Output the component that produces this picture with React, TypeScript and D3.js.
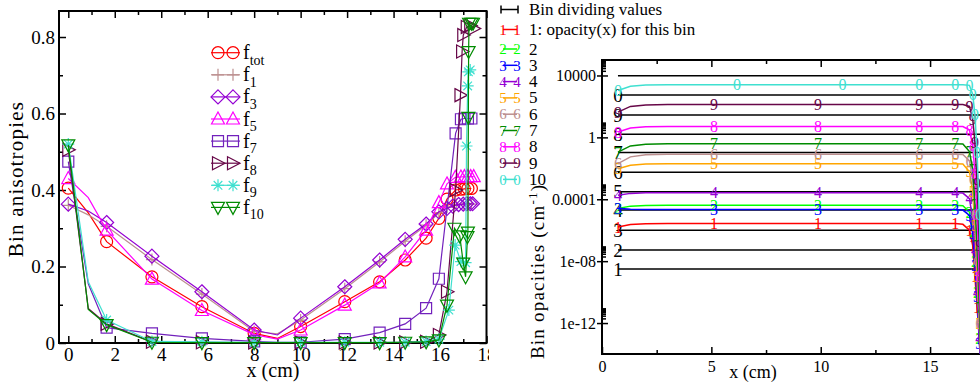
import React, { useEffect, useRef } from 'react';
import * as d3 from 'd3';

const FONT = '"Liberation Serif", "Times New Roman", serif';

// ---------- left panel: bin anisotropies ----------
// x grid shared by all curves up to 16 cm
const anisoX = [0, 0.86, 1.65, 3.6, 5.75, 8.0, 9.0, 10.0, 11.9, 13.4, 14.5, 15.4, 15.95];
// vertices drawn without a symbol
const lineOnlyX = [0.86, 9.0];

const fTot = [0.405, 0.34, 0.265, 0.173, 0.095, 0.025, 0.012, 0.043, 0.108, 0.16, 0.217, 0.274, 0.326];
const fTotTail = [[16.3, 0.376], [16.67, 0.4], [16.9, 0.402], [17.05, 0.403], [17.2, 0.404], [17.35, 0.404]];
const f1 = [0.36, 0.335, 0.305, 0.218, 0.128, 0.03, 0.024, 0.06, 0.142, 0.212, 0.266, 0.308, 0.34];
const f1Tail = [[16.3, 0.355], [16.7, 0.362], [17.0, 0.363], [17.2, 0.363], [17.35, 0.363]];
const f3 = [0.363, 0.345, 0.315, 0.227, 0.134, 0.034, 0.021, 0.065, 0.147, 0.217, 0.271, 0.311, 0.343];
const f3Tail = [[16.3, 0.352], [16.55, 0.358], [16.8, 0.362], [17.0, 0.363], [17.15, 0.364], [17.3, 0.364], [17.4, 0.364]];
const f5 = [0.43, 0.38, 0.295, 0.167, 0.085, 0.022, 0.01, 0.034, 0.099, 0.157, 0.225, 0.295, 0.367];
const f5Tail = [[16.3, 0.416], [16.66, 0.433], [16.9, 0.434], [17.05, 0.435], [17.2, 0.435], [17.32, 0.435], [17.45, 0.435]];
const f7 = [0.474, 0.155, 0.04, 0.025, 0.012, 0.004, 0.002, 0.002, 0.01, 0.027, 0.05, 0.091, 0.168];
const f7Tail = [[16.67, 0.548], [16.9, 0.585], [17.05, 0.587], [17.2, 0.587], [17.35, 0.587]];
const f8 = [0.505, 0.09, 0.05, 0.003, 0.002, 0.001, 0.001, 0.001, 0.001, 0.001, 0.002, 0.003, 0.021];
const f8Tail = [[16.3, 0.134], [16.67, 0.4], [16.88, 0.648], [16.95, 0.762], [17.0, 0.805], [17.15, 0.826], [17.3, 0.83], [17.45, 0.822]];
const f9 = [0.52, 0.16, 0.06, 0.004, 0.003, 0.002, 0.002, 0.002, 0.002, 0.002, 0.002, 0.004, 0.01];
const f9Tail = [[16.38, 0.086], [16.65, 0.256], [16.9, 0.213], [17.1, 0.21], [17.14, 0.515], [17.19, 0.672], [17.22, 0.709], [17.3, 0.714]];
const f10 = [0.518, 0.088, 0.048, 0.002, 0.001, 0.001, 0.001, 0.001, 0.001, 0.001, 0.002, 0.003, 0.008];
const f10Tail = [[16.3, 0.099], [16.62, 0.3], [16.85, 0.28], [17.0, 0.209], [17.1, 0.173], [17.18, 0.278], [17.2, 0.29], [17.22, 0.59], [17.23, 0.762], [17.25, 0.836], [17.35, 0.836], [17.42, 0.836]];

const leftXTicks = [0, 2, 4, 6, 8, 10, 12, 14, 16, 18];
const leftXMinor = [1, 3, 5, 7, 9, 11, 13, 15, 17];
const leftYTicks = [0, 0.2, 0.4, 0.6, 0.8];
const leftYMinor = [0.1, 0.3, 0.5, 0.7];

// ---------- right panel: bin opacities ----------
const opacX = [0.73, 1.3, 2.0, 3.0, 5.12, 6.17, 9.88, 11.0, 14.5, 16.15, 16.5, 16.8, 16.95, 17.05, 17.15, 17.25, 17.35];
const glyphIdx = [0, 4, 6, 8, 9, 11, 12, 13, 14, 15];
const glyphIdx10 = [0, 5, 7, 8, 9, 11, 12, 13, 14, 15];

const bin1 = [1.6e-6, 2.3e-6, 2.6e-6, 2.7e-6, 2.7e-6, 2.7e-6, 2.7e-6, 2.7e-6, 2.7e-6, 2.7e-6, 2.4e-6, 1e-6, 1e-7, 1e-9, 1e-11, 1e-13, 1e-15];
const bin2 = [2.5e-5, 3.6e-5, 4e-5, 4.1e-5, 4.1e-5, 4.1e-5, 4.1e-5, 4.1e-5, 4.1e-5, 4.1e-5, 3.8e-5, 1.5e-5, 8e-7, 1e-8, 1e-10, 1e-13, 1e-15];
const bin3 = [2.6e-5, 2.3e-5, 2.2e-5, 2.2e-5, 2.2e-5, 2.2e-5, 2.2e-5, 2.2e-5, 2.2e-5, 2.2e-5, 2e-5, 9e-6, 6e-7, 5e-9, 5e-11, 5e-14, 1e-15];
const bin4 = [1.8e-4, 2.4e-4, 2.6e-4, 2.6e-4, 2.6e-4, 2.6e-4, 2.6e-4, 2.6e-4, 2.6e-4, 2.6e-4, 2.5e-4, 1.1e-4, 5e-6, 5e-8, 1e-10, 1e-13, 1e-15];
const bin5 = [0.0095, 0.016, 0.019, 0.02, 0.02, 0.02, 0.02, 0.02, 0.02, 0.02, 0.019, 0.006, 3e-4, 2e-6, 1e-9, 1e-12, 1e-15];
const bin6 = [0.02, 0.055, 0.075, 0.08, 0.08, 0.08, 0.08, 0.08, 0.08, 0.08, 0.078, 0.03, 2e-3, 1e-5, 1e-8, 1e-12, 1e-15];
const bin7 = [0.11, 0.28, 0.36, 0.39, 0.39, 0.39, 0.39, 0.39, 0.39, 0.39, 0.37, 0.12, 8e-3, 5e-5, 1e-7, 1e-11, 1e-15];
const bin8 = [2.2, 4.0, 4.8, 5.1, 5.1, 5.1, 5.1, 5.1, 5.1, 5.1, 5.0, 3.0, 0.3, 5e-3, 1e-5, 1e-9, 1e-14];
const bin9 = [43, 100, 125, 135, 135, 135, 135, 135, 135, 135, 134, 100, 15, 0.5, 1e-3, 1e-7, 1e-12];
const bin10 = [1080, 2000, 2400, 2500, 2500, 2500, 2500, 2500, 2500, 2500, 2500, 2300, 600, 30, 0.1, 1e-5, 1e-10];

const dividerX = [0.73, 18];
const dividers = [9500, 540, 27.5, 1.6, 0.107, 0.0055, 3.1e-4, 2.0e-5, 1.0e-6, 5.2e-8, 3.1e-9];
const dividerGlyphs = ['', '0', '9', '8', '7', '6', '5', '4', '3', '2', '1'];

const rightXTicks = [0, 5, 10, 15];
const rightXMinor = [2.5, 7.5, 12.5, 17.5];
const rightYTicks = [1e-12, 1e-8, 1e-4, 1, 1e4];
const rightYLabels = ['1e-12', '1e-08', '0.0001', '1', '10000'];
const logMinorFactors = [2, 3, 4, 5, 6, 7, 8, 9];

const legendLabels = ['Bin dividing values', '1: opacity(x) for this bin', '2', '3', '4', '5', '6', '7', '8', '9', '10'];

const SHAPES: Record<string, string> = {
  plus: 'M-6,0H6M0,-6V6',
  diamond: 'M0,-7L7,0L0,7L-7,0Z',
  triUp: 'M0,-7L6.5,5L-6.5,5Z',
  square: 'M-5.5,-5.5h11v11h-11Z',
  triRight: 'M-5.5,-6.5L7,0L-5.5,6.5Z',
  star: 'M-6,0H6M0,-6V6M-4.3,-4.3L4.3,4.3M-4.3,4.3L4.3,-4.3',
  triDown: 'M0,7L6.5,-5L-6.5,-5Z',
};

const drawMarker = (g, shape, color, x, y) => {
  if (shape === 'circle') {
    g.append('circle').attr('cx', x).attr('cy', y).attr('r', 6)
      .attr('fill', 'none').attr('stroke', color).attr('stroke-width', 1.2);
  } else {
    g.append('path').attr('d', SHAPES[shape]).attr('transform', `translate(${x},${y})`)
      .attr('fill', 'none').attr('stroke', color).attr('stroke-width', 1.2);
  }
};

const styleAxis = (g, size) => {
  g.attr('font-family', FONT).attr('font-size', size);
  g.select('.domain').remove();
  g.selectAll('.tick line').attr('stroke', '#000').attr('stroke-width', 1.5);
  g.selectAll('.tick text').attr('fill', '#000');
};

const App = () => {
  const ref = useRef(null);

  useEffect(() => {
    const svg = d3.select(ref.current);
    svg.selectAll('*').remove();
    const defs = svg.append('defs');
    defs.append('clipPath').attr('id', 'leftClip').append('rect')
      .attr('x', 0).attr('y', 0).attr('width', 489).attr('height', 387);
    defs.append('clipPath').attr('id', 'rightPlot').append('rect')
      .attr('x', 602).attr('y', 60).attr('width', 400).attr('height', 294);

    // ================= LEFT =================
    const xL = d3.scaleLinear().domain([-0.4, 18]).range([59, 486.5]);
    const yL = d3.scaleLinear().domain([0, 0.868]).range([343, 11]);
    const left = svg.append('g').attr('clip-path', 'url(#leftClip)');

    const bx = left.append('g').attr('transform', 'translate(0,343)')
      .call(d3.axisBottom(xL).tickValues(leftXTicks).tickSize(-7).tickPadding(5).tickFormat(d3.format('d')));
    styleAxis(bx, 19);
    styleAxis(left.append('g').attr('transform', 'translate(0,343)')
      .call(d3.axisBottom(xL).tickValues(leftXMinor).tickSize(-4).tickFormat(() => '')), 19);
    styleAxis(left.append('g').attr('transform', 'translate(0,11)')
      .call(d3.axisTop(xL).tickValues(leftXTicks).tickSize(-7).tickFormat(() => '')), 19);
    styleAxis(left.append('g').attr('transform', 'translate(0,11)')
      .call(d3.axisTop(xL).tickValues(leftXMinor).tickSize(-4).tickFormat(() => '')), 19);
    const ly = left.append('g').attr('transform', 'translate(59,0)')
      .call(d3.axisLeft(yL).tickValues(leftYTicks).tickSize(-7).tickPadding(4)
        .tickFormat((d) => (d === 0 ? '0' : d3.format('.1f')(d))));
    styleAxis(ly, 19);
    styleAxis(left.append('g').attr('transform', 'translate(59,0)')
      .call(d3.axisLeft(yL).tickValues(leftYMinor).tickSize(-4).tickFormat(() => '')), 19);
    styleAxis(left.append('g').attr('transform', 'translate(486.5,0)')
      .call(d3.axisRight(yL).tickValues(leftYTicks).tickSize(-7).tickFormat(() => '')), 19);
    styleAxis(left.append('g').attr('transform', 'translate(486.5,0)')
      .call(d3.axisRight(yL).tickValues(leftYMinor).tickSize(-4).tickFormat(() => '')), 19);

    left.append('rect').attr('x', 59).attr('y', 11).attr('width', 427.5).attr('height', 332)
      .attr('fill', 'none').attr('stroke', '#000').attr('stroke-width', 2);

    left.append('text').text('x (cm)').attr('x', 273).attr('y', 377)
      .attr('text-anchor', 'middle').attr('font-family', FONT).attr('font-size', 20);
    left.append('text').text('Bin anisotropies').attr('transform', 'rotate(-90)')
      .attr('x', -179).attr('y', 23).attr('text-anchor', 'middle')
      .attr('font-family', FONT).attr('font-size', 21).attr('letter-spacing', 1.2);

    const aniso = [
      { sub: 'tot', color: '#ff0000', shape: 'circle', ys: fTot, tail: fTotTail },
      { sub: '1', color: '#bc8f8f', shape: 'plus', ys: f1, tail: f1Tail },
      { sub: '3', color: '#9400d3', shape: 'diamond', ys: f3, tail: f3Tail },
      { sub: '5', color: '#ff00ff', shape: 'triUp', ys: f5, tail: f5Tail },
      { sub: '7', color: '#7221bc', shape: 'square', ys: f7, tail: f7Tail },
      { sub: '8', color: '#670748', shape: 'triRight', ys: f8, tail: f8Tail },
      { sub: '9', color: '#40e0d0', shape: 'star', ys: f9, tail: f9Tail },
      { sub: '10', color: '#008b00', shape: 'triDown', ys: f10, tail: f10Tail },
    ];

    const lineL = d3.line().x((d) => xL(d[0])).y((d) => yL(d[1]));
    aniso.forEach((s) => {
      const pts = anisoX.map((x, i) => [x, s.ys[i]]).concat(s.tail);
      left.append('path').attr('d', lineL(pts)).attr('fill', 'none')
        .attr('stroke', s.color).attr('stroke-width', 1.2);
      pts.filter((p) => !lineOnlyX.includes(p[0]))
        .forEach((p) => drawMarker(left, s.shape, s.color, xL(p[0]), yL(p[1])));
    });

    // legend
    aniso.forEach((s, i) => {
      const cy = 52.7 + i * 22.1;
      left.append('line').attr('x1', 211).attr('x2', 240).attr('y1', cy).attr('y2', cy)
        .attr('stroke', s.color).attr('stroke-width', 1.2);
      drawMarker(left, s.shape, s.color, 218, cy);
      drawMarker(left, s.shape, s.color, 233, cy);
      const t = left.append('text').attr('x', 243).attr('y', cy + 6.5)
        .attr('font-family', FONT).attr('font-size', 20);
      t.append('tspan').text('f');
      t.append('tspan').text(s.sub).attr('font-size', 14).attr('dy', 5.5);
    });

    // ================= RIGHT =================
    const xR = d3.scaleLinear().domain([0, 18]).range([602, 995.7]);
    const yR = d3.scaleLog().domain([1e-14, 1e5]).range([354, 60]);
    const right = svg.append('g');

    const rb = right.append('g').attr('transform', 'translate(0,354)')
      .call(d3.axisBottom(xR).tickValues(rightXTicks).tickSize(-7).tickPadding(7).tickFormat(d3.format('d')));
    styleAxis(rb, 16);
    styleAxis(right.append('g').attr('transform', 'translate(0,354)')
      .call(d3.axisBottom(xR).tickValues(rightXMinor).tickSize(-4).tickFormat(() => '')), 16);
    styleAxis(right.append('g').attr('transform', 'translate(0,60)')
      .call(d3.axisTop(xR).tickValues(rightXTicks).tickSize(-7).tickFormat(() => '')), 16);
    styleAxis(right.append('g').attr('transform', 'translate(0,60)')
      .call(d3.axisTop(xR).tickValues(rightXMinor).tickSize(-4).tickFormat(() => '')), 16);
    const ry = right.append('g').attr('transform', 'translate(602,0)')
      .call(d3.axisLeft(yR).tickValues(rightYTicks).tickSize(5).tickPadding(1)
        .tickFormat((d, i) => rightYLabels[i]));
    styleAxis(ry, 16);
    styleAxis(right.append('g').attr('transform', 'translate(602,0)')
      .call(d3.axisRight(yR).tickValues(rightYTicks).tickSize(6).tickFormat(() => '')), 16);
    const yMinor = rightYTicks.flatMap((m) => logMinorFactors.map((f) => m * f));
    styleAxis(right.append('g').attr('transform', 'translate(602,0)')
      .call(d3.axisRight(yR).tickValues(yMinor).tickSize(4).tickFormat(() => '')), 16);

    right.append('path').attr('d', 'M1000,60H602V354H1000').attr('fill', 'none')
      .attr('stroke', '#000').attr('stroke-width', 2);

    right.append('text').text('x (cm)').attr('x', 753).attr('y', 378)
      .attr('text-anchor', 'middle').attr('font-family', FONT).attr('font-size', 18);
    const yt = right.append('text').attr('transform', 'rotate(-90)')
      .attr('x', -359).attr('y', 544).attr('font-family', FONT).attr('font-size', 19)
      .attr('letter-spacing', 1.2);
    yt.append('tspan').text('Bin opacities (cm');
    yt.append('tspan').text('-1').attr('font-size', 13).attr('dy', -7);
    yt.append('tspan').text(')').attr('dy', 7);

    const plot = right.append('g').attr('clip-path', 'url(#rightPlot)');
    const lineR = d3.line().x((d) => xR(d[0])).y((d) => yR(Math.max(d[1], 1e-16)));

    // bin dividing values
    dividers.forEach((v, i) => {
      plot.append('path').attr('d', lineR(dividerX.map((x) => [x, v])))
        .attr('fill', 'none').attr('stroke', '#000').attr('stroke-width', 1.5);
      if (dividerGlyphs[i]) {
        plot.append('text').text(dividerGlyphs[i]).attr('x', xR(dividerX[0])).attr('y', yR(v))
          .attr('dy', '0.35em').attr('text-anchor', 'middle')
          .attr('font-family', FONT).attr('font-size', 19).attr('fill', '#000');
      }
    });

    const bins = [
      { glyph: '1', color: '#ff0000', ys: bin1 },
      { glyph: '2', color: '#00ff00', ys: bin2 },
      { glyph: '3', color: '#0000ff', ys: bin3 },
      { glyph: '4', color: '#9400d3', ys: bin4 },
      { glyph: '5', color: '#ffa500', ys: bin5 },
      { glyph: '6', color: '#bc8f8f', ys: bin6 },
      { glyph: '7', color: '#008b00', ys: bin7 },
      { glyph: '8', color: '#ff00ff', ys: bin8 },
      { glyph: '9', color: '#670748', ys: bin9 },
      { glyph: '0', color: '#40e0d0', ys: bin10 },
    ];
    bins.forEach((b, k) => {
      const pts = opacX.map((x, i) => [x, b.ys[i]]);
      plot.append('path').attr('d', lineR(pts)).attr('fill', 'none')
        .attr('stroke', b.color).attr('stroke-width', 1.5);
      (k === 9 ? glyphIdx10 : glyphIdx).forEach((i) => {
        plot.append('text').text(b.glyph).attr('x', xR(opacX[i])).attr('y', yR(Math.max(b.ys[i], 1e-16)))
          .attr('dy', '0.35em').attr('text-anchor', 'middle')
          .attr('font-family', FONT).attr('font-size', 16).attr('fill', b.color);
      });
    });

    // legend
    const legendColors = ['#000'].concat(bins.map((b) => b.color));
    legendLabels.forEach((label, i) => {
      const base = i < 2 ? 15 + i * 20 : 54.5 + (i - 2) * 16.3;
      const cy = base - 5.5;
      const c = legendColors[i];
      if (i === 0) {
        right.append('path').attr('d', `M501,${cy - 4}V${cy + 4}M501,${cy}H518M518,${cy - 4}V${cy + 4}`)
          .attr('fill', 'none').attr('stroke', c).attr('stroke-width', 1.5);
      } else {
        right.append('line').attr('x1', 503).attr('x2', 517).attr('y1', cy).attr('y2', cy)
          .attr('stroke', c).attr('stroke-width', 1.5);
        [503, 517].forEach((x) => {
          right.append('text').text(bins[i - 1].glyph).attr('x', x).attr('y', cy)
            .attr('dy', '0.35em').attr('text-anchor', 'middle')
            .attr('font-family', FONT).attr('font-size', 15).attr('fill', c);
        });
      }
      right.append('text').text(label).attr('x', 529).attr('y', base)
        .attr('font-family', FONT).attr('font-size', 17).attr('fill', '#000');
    });
  }, []);

  return (
    <svg ref={ref} width={980} height={387}
      style={{ position: 'absolute', left: 0, top: 0, background: '#fff' }} />
  );
};

export default App;
